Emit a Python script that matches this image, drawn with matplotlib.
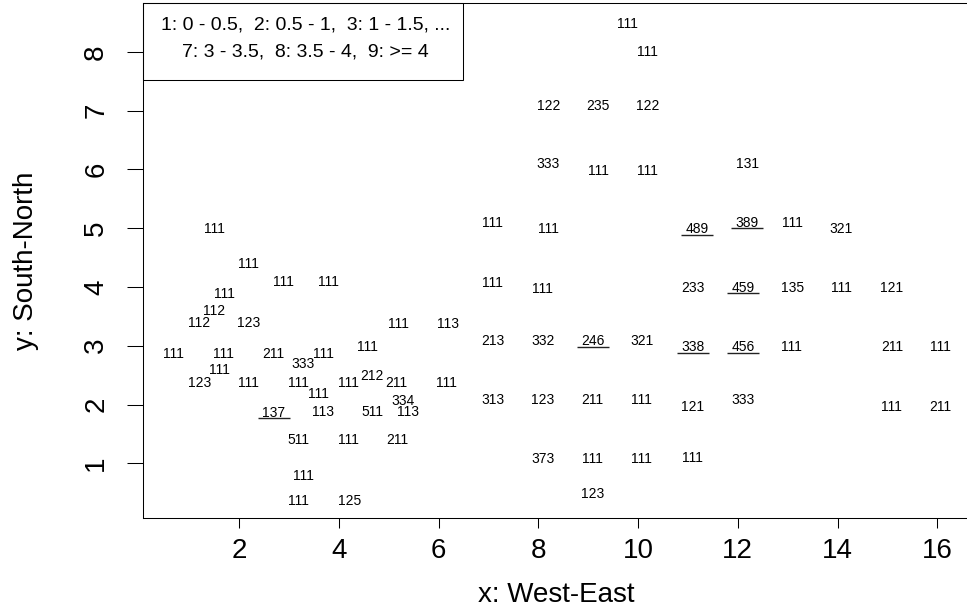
import matplotlib
matplotlib.use("Agg")
import matplotlib.pyplot as plt
from matplotlib.patches import Rectangle
from matplotlib.transforms import ScaledTranslation

# Etykiety (kody) i ich położenia
etykiety = [
    "111", "111", "122", "235", "122", "333", "111", "111", "131",
    "111", "111", "111", "489", "389", "111", "321",
    "111", "111", "111", "111", "111", "111", "233", "459", "135", "111", "121",
    "112", "112", "123", "111", "113",
    "111", "111", "211", "111", "111", "333", "213", "332", "246", "321",
    "338", "456", "111", "211", "111",
    "111", "123", "111", "111", "111", "212", "211", "111",
    "111", "334", "137", "113", "511", "113", "313", "123", "211", "111",
    "121", "333", "111", "211",
    "511", "111", "211", "373", "111", "111", "111",
    "111", "111", "125", "123",
]
x_pos = [
    9.79, 10.19, 8.20, 9.20, 10.19, 8.20, 9.20, 10.19, 12.19,
    1.50, 7.09, 8.20, 11.19, 12.19, 13.09, 14.08,
    2.19, 2.89, 3.79, 1.70, 7.09, 8.09, 11.10, 12.10, 13.10, 14.08, 15.09,
    1.50, 1.20, 2.20, 5.19, 6.18,
    0.68, 1.69, 2.69, 3.69, 4.58, 3.29, 7.09, 8.09, 9.09, 10.07,
    11.10, 12.10, 13.08, 15.09, 16.07,
    1.60, 1.20, 2.19, 3.19, 4.19, 4.66, 5.16, 6.16,
    3.59, 5.29, 2.70, 3.69, 4.68, 5.39, 7.09, 8.09, 9.09, 10.07,
    11.10, 12.10, 15.09, 16.07,
    3.19, 4.19, 5.17, 8.09, 9.09, 10.07, 11.10,
    3.29, 3.19, 4.21, 9.09,
]
y_pos = [
    8.49, 8.01, 7.10, 7.10, 7.10, 6.10, 5.99, 5.99, 6.10,
    5.00, 5.11, 5.00, 5.00, 5.11, 5.11, 5.00,
    4.41, 4.10, 4.10, 3.89, 4.09, 3.99, 4.00, 4.00, 4.00, 4.00, 4.00,
    3.61, 3.41, 3.41, 3.39, 3.39,
    2.87, 2.87, 2.87, 2.87, 2.99, 2.70, 3.09, 3.09, 3.09, 3.09,
    2.99, 2.99, 2.99, 2.99, 2.99,
    2.60, 2.39, 2.39, 2.39, 2.39, 2.51, 2.39, 2.39,
    2.20, 2.08, 1.88, 1.89, 1.89, 1.89, 2.09, 2.09, 2.09, 2.09,
    1.97, 2.09, 1.97, 1.97,
    1.41, 1.41, 1.41, 1.09, 1.09, 1.09, 1.10,
    0.80, 0.38, 0.38, 0.49,
]
podkreslone = ["137", "246", "338", "456", "459", "489", "389"]

x_ticks = [2, 4, 6, 8, 10, 12, 14, 16]
y_ticks = [1, 2, 3, 4, 5, 6, 7, 8]
legenda = ["1: 0 - 0.5,  2: 0.5 - 1,  3: 1 - 1.5, ...",
           "7: 3 - 3.5,  8: 3.5 - 4,  9: >= 4"]

plt.rcParams['font.family'] = ['Liberation Sans', 'DejaVu Sans']

W, H = 967, 605
fig = plt.figure(figsize=(W / 100, H / 100), dpi=100)
ax = fig.add_axes([142.7 / W, 1 - 517.7 / H, 828 / W, 514.7 / H])

# przesuniecia: tekst wysrodkowany na punkcie, podkreslenie pod tekstem
dy_tekst = ScaledTranslation(0, -3.6 / 72, fig.dpi_scale_trans)
dy_linia = ScaledTranslation(0, -4.7 / 72, fig.dpi_scale_trans)

for lab, xi, yi in zip(etykiety, x_pos, y_pos):
    ax.text(xi, yi, lab, fontsize=10, ha='center', va='baseline',
            transform=ax.transData + dy_tekst)
    if lab in podkreslone:
        ax.plot([xi - 0.32, xi + 0.32], [yi, yi], color='#222222', lw=1.0,
                solid_capstyle='butt', transform=ax.transData + dy_linia)

ax.set_xlim(0.068, 16.67)
ax.set_ylim(0.075, 8.83)

ax.set_xticks(x_ticks, [str(t) for t in x_ticks])
ax.set_yticks(y_ticks, [str(t) for t in y_ticks], rotation=90, va='center', ha='right')
ax.tick_params(axis='x', length=7, width=0.75, pad=7.3, labelsize=20, direction='out')
ax.tick_params(axis='y', length=11.5, width=0.75, pad=12.6, labelsize=20, direction='out')
for s in ax.spines.values():
    s.set_linewidth(0.75)

ax.set_xlabel('x: West-East', fontsize=20)
ax.xaxis.set_label_coords(0.5, -0.1241)
ax.set_ylabel('y: South-North', fontsize=20)
ax.yaxis.set_label_coords(-0.1257, 0.5)

# ramka legendy w lewym gornym rogu
szer = (463 - 142.7) / 828
wys = (80 - 3) / 514.7
ax.add_patch(Rectangle((0, 1 - wys), szer, wys, transform=ax.transAxes,
                       fill=False, lw=0.75, edgecolor='black', clip_on=False))
ax.text(0.197, 0.9489, legenda[0], fontsize=14, ha='center', va='baseline',
        transform=ax.transAxes)
ax.text(0.197, 0.897, legenda[1], fontsize=14, ha='center', va='baseline',
        transform=ax.transAxes)

fig.savefig('out.png', dpi=100)
plt.close(fig)
